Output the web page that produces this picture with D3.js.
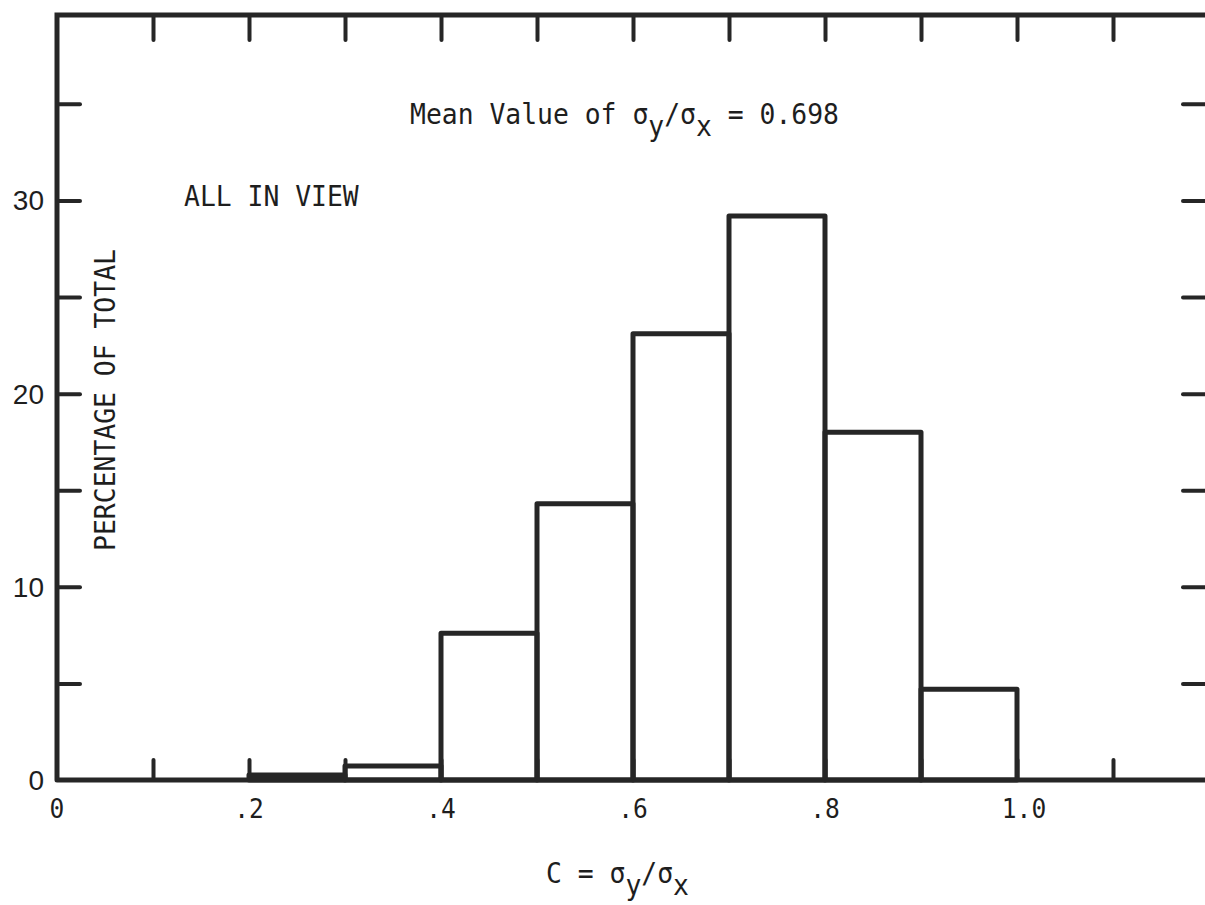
<!DOCTYPE html>
<html lang="en">
<head>
  <meta charset="UTF-8" />
  <title>Distribution of sigma_y / sigma_x</title>
  <script src="https://d3js.org/d3.v7.min.js"></script>
  <style>
    body { margin: 0; background: #fff; }
    svg { display: block; }
    .frame { stroke: #262626; stroke-width: 5; fill: none; stroke-linecap: round; }
    .bar { stroke: #262626; stroke-width: 5; fill: none; stroke-linejoin: round; }
    .tick-axis path { display: none; }
    .tick-axis line { stroke: #262626; stroke-width: 4; stroke-linecap: round; }
    .mono { font-family: "DejaVu Sans Mono", monospace; fill: #1e1e1e; }
    .num { font-family: "Liberation Sans", Arial, sans-serif; fill: #1e1e1e; }
  </style>
</head>
<body>
  <svg width="1205" height="905"></svg>

  <script>
    // histogram bins (lower edges) and percentages
    const binStarts = [0.2, 0.3, 0.4, 0.5, 0.6, 0.7, 0.8, 0.9];
    const binWidth = 0.1;
    const percents = [0.26, 0.72, 7.6, 14.3, 23.1, 29.2, 18.0, 4.7];

    const xTickLabels = ["0", ".2", ".4", ".6", ".8", "1.0"];
    const xLabelValues = [0, 0.2, 0.4, 0.6, 0.8, 1.0];
    const xMinorTicks = [0.1, 0.2, 0.3, 0.4, 0.5, 0.6, 0.7, 0.8, 0.9, 1.0, 1.1];
    const yLabelValues = [0, 10, 20, 30];
    const yMinorTicks = [5, 10, 15, 20, 25, 30, 35];

    const svg = d3.select("svg");

    const x = d3.scaleLinear().domain([0, 1.2]).range([57, 1209]);
    const y = d3.scaleLinear().domain([0, 39.6]).range([780, 15]);

    const sx = 0.91; // squeeze for the typewriter-ish lettering

    // bars
    const bins = binStarts.map((b, i) => ({ x0: b, x1: b + binWidth, v: percents[i] }));
    svg.selectAll("rect.bar")
      .data(bins)
      .join("rect")
      .attr("class", "bar")
      .attr("x", d => x(d.x0))
      .attr("width", d => x(d.x1) - x(d.x0))
      .attr("y", d => y(d.v))
      .attr("height", d => y(0) - y(d.v));

    // ticks: top hanging down, bottom pointing up
    svg.append("g").attr("class", "tick-axis")
      .attr("transform", `translate(0,${y(39.6)})`)
      .call(d3.axisTop(x).tickValues(xMinorTicks).tickSizeInner(-25).tickSizeOuter(0).tickFormat(""));
    svg.append("g").attr("class", "tick-axis")
      .attr("transform", `translate(0,${y(0)})`)
      .call(d3.axisBottom(x).tickValues(xMinorTicks).tickSizeInner(-20).tickSizeOuter(0).tickFormat(""));
    svg.append("g").attr("class", "tick-axis")
      .attr("transform", `translate(${x(0)},0)`)
      .call(d3.axisLeft(y).tickValues(yMinorTicks).tickSizeInner(-23).tickSizeOuter(0).tickFormat(""));
    svg.append("g").attr("class", "tick-axis")
      .attr("transform", `translate(${x(1.2)},0)`)
      .call(d3.axisRight(y).tickValues(yMinorTicks).tickSizeInner(-26).tickSizeOuter(0).tickFormat(""));

    // frame
    svg.append("path")
      .attr("class", "frame")
      .attr("d", d3.line()([[x(0), y(0)], [x(0), y(39.6)], [x(1.2), y(39.6)], [x(1.2), y(0)], [x(0), y(0)]]));

    // tick labels
    svg.selectAll("text.xl")
      .data(xLabelValues)
      .join("text")
      .attr("class", "xl mono")
      .attr("text-anchor", "middle")
      .attr("font-size", 27)
      .attr("transform", d => `translate(${x(d) + (d === 1 ? 7 : 0)},818) scale(${sx},1)`)
      .text((d, i) => xTickLabels[i]);

    svg.selectAll("text.yl")
      .data(yLabelValues)
      .join("text")
      .attr("class", "yl num")
      .attr("text-anchor", "end")
      .attr("font-size", 28)
      .attr("x", 44)
      .attr("y", d => y(d) + 10)
      .text(d => d);

    // text with sigma subscripts
    function sigmaText(tx, ty, before, after) {
      const t = svg.append("text")
        .attr("class", "mono")
        .attr("font-size", 29)
        .attr("transform", `translate(${tx},${ty}) scale(${sx},1)`);
      t.append("tspan").text(before + "\u03c3");
      t.append("tspan").attr("dy", 12).text("y");
      t.append("tspan").attr("dy", -12).text("/\u03c3");
      t.append("tspan").attr("dy", 12).text("x");
      if (after) t.append("tspan").attr("dy", -12).text(after);
      return t;
    }

    sigmaText(410, 124, "Mean Value of ", " = 0.698");
    sigmaText(546, 883, "C = ", "");

    svg.append("text")
      .attr("class", "mono")
      .attr("font-size", 29)
      .attr("transform", `translate(184,206) scale(${sx},1)`)
      .text("ALL IN VIEW");

    svg.append("text")
      .attr("class", "mono")
      .attr("font-size", 29)
      .attr("text-anchor", "middle")
      .attr("transform", `translate(115,400) rotate(-90) scale(${sx},1)`)
      .text("PERCENTAGE OF TOTAL");
  </script>
</body>
</html>
